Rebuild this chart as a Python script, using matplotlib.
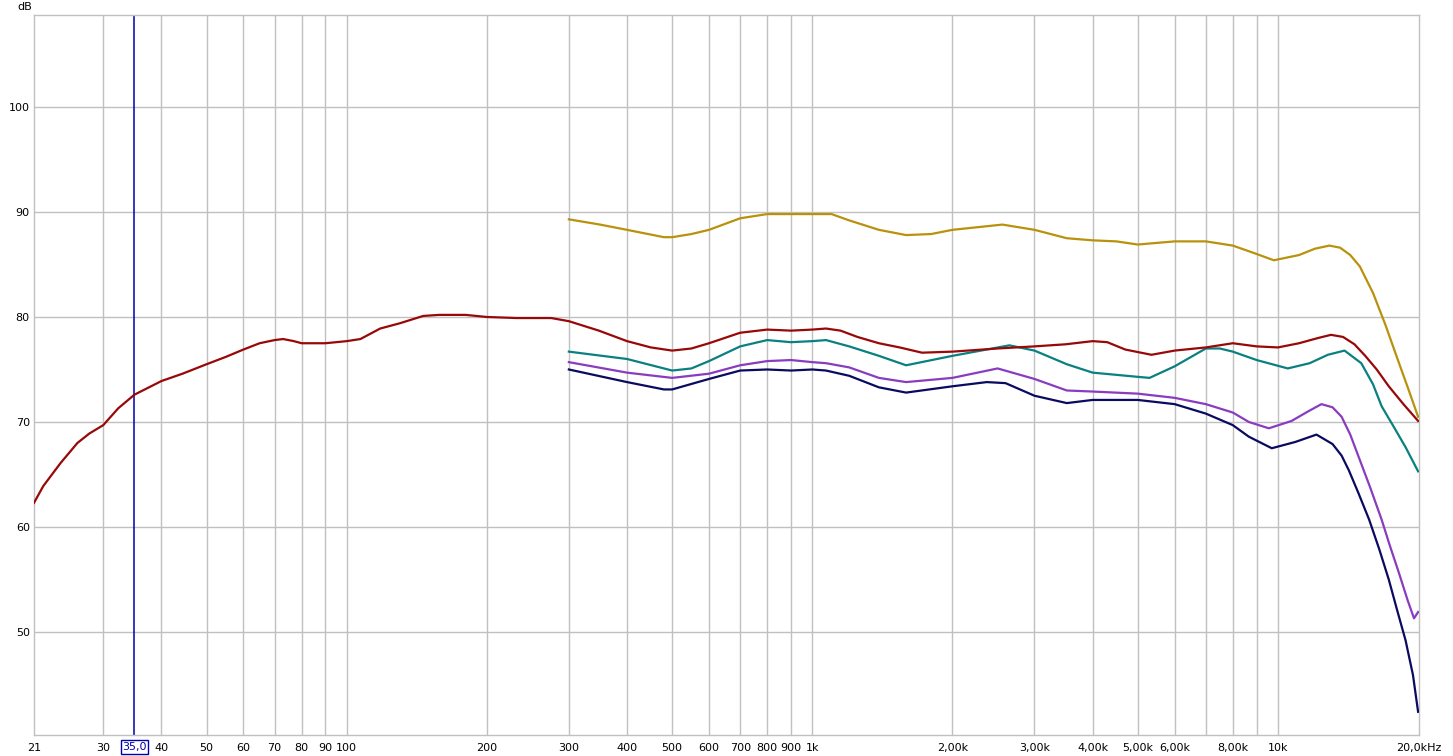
import matplotlib
matplotlib.use("Agg")
import matplotlib.pyplot as plt
import matplotlib.transforms as mtransforms

# red trace, full range
red_freq = [21.3, 22.3, 24.3, 26.4, 28, 30, 32.3, 35, 40, 44.4, 50, 55, 60, 65, 70, 73,
            77, 80, 90, 100, 107, 118, 130, 146, 158, 180, 200, 232, 275, 300, 348, 400,
            450, 500, 550, 600, 700, 800, 900, 1000, 1070, 1150, 1250, 1390, 1540, 1720,
            2000, 2500, 3000, 3500, 4000, 4300, 4700, 5350, 6000, 7000, 8000, 9000,
            10000, 11100, 12200, 13000, 13800, 14600, 15400, 16300, 17300, 18600, 20000]
red_db = [62.3, 63.9, 66.1, 68.0, 68.9, 69.7, 71.3, 72.6, 73.9, 74.6, 75.5, 76.2, 76.9,
          77.5, 77.8, 77.9, 77.7, 77.5, 77.5, 77.7, 77.9, 78.9, 79.4, 80.1, 80.2, 80.2,
          80.0, 79.9, 79.9, 79.6, 78.7, 77.7, 77.1, 76.8, 77.0, 77.5, 78.5, 78.8, 78.7,
          78.8, 78.9, 78.7, 78.1, 77.5, 77.1, 76.6, 76.7, 77.0, 77.2, 77.4, 77.7, 77.6,
          76.9, 76.4, 76.8, 77.1, 77.5, 77.2, 77.1, 77.5, 78.0, 78.3, 78.1, 77.4, 76.3,
          75.0, 73.4, 71.7, 70.1]

# gold trace
gold_freq = [300, 350, 400, 480, 500, 550, 600, 700, 800, 900, 1000, 1100, 1200, 1390,
             1590, 1800, 2000, 2560, 3000, 3520, 4000, 4500, 5000, 6000, 7000, 8000,
             9000, 9800, 11100, 12000, 12900, 13600, 14300, 15000, 16000, 17000, 18000,
             19000, 20000]
gold_db = [89.3, 88.8, 88.3, 87.6, 87.6, 87.9, 88.3, 89.4, 89.8, 89.8, 89.8, 89.8, 89.2,
           88.3, 87.8, 87.9, 88.3, 88.8, 88.3, 87.5, 87.3, 87.2, 86.9, 87.2, 87.2, 86.8,
           86.0, 85.4, 85.9, 86.5, 86.8, 86.6, 85.9, 84.8, 82.3, 79.3, 76.2, 73.3, 70.5]

# teal trace
teal_freq = [300, 400, 500, 550, 600, 700, 800, 900, 1000, 1070, 1200, 1390, 1590, 2000,
             2650, 3000, 3520, 4000, 5000, 5300, 6000, 7000, 7500, 8000, 9000, 10500,
             11700, 12800, 13900, 15100, 16000, 16700, 17700, 18800, 20000]
teal_db = [76.7, 76.0, 74.9, 75.1, 75.8, 77.2, 77.8, 77.6, 77.7, 77.8, 77.2, 76.3, 75.4,
           76.3, 77.3, 76.8, 75.5, 74.7, 74.3, 74.2, 75.3, 77.0, 77.0, 76.7, 75.9, 75.1,
           75.6, 76.4, 76.8, 75.6, 73.6, 71.5, 69.6, 67.6, 65.3]

# purple trace
purple_freq = [300, 400, 500, 600, 700, 800, 900, 1000, 1070, 1200, 1390, 1590, 2000,
               2500, 3000, 3520, 4000, 5000, 6000, 7000, 8000, 8660, 9560, 10700, 11600,
               12400, 13100, 13700, 14300, 14900, 15800, 16700, 17400, 18200, 19000,
               19600, 20000]
purple_db = [75.7, 74.7, 74.2, 74.6, 75.4, 75.8, 75.9, 75.7, 75.6, 75.2, 74.2, 73.8, 74.2,
             75.1, 74.1, 73.0, 72.9, 72.7, 72.3, 71.7, 70.9, 70.0, 69.4, 70.1, 71.0, 71.7,
             71.4, 70.5, 68.8, 66.7, 63.7, 60.7, 58.2, 55.6, 53.0, 51.3, 51.9]

# navy trace
navy_freq = [300, 400, 480, 500, 600, 700, 800, 900, 1000, 1070, 1200, 1390, 1590, 2000,
             2370, 2600, 3000, 3520, 4000, 5000, 6000, 7000, 8000, 8660, 9700, 10900,
             12100, 13100, 13700, 14200, 14900, 15700, 16500, 17300, 18000, 18800, 19500,
             20000]
navy_db = [75.0, 73.8, 73.1, 73.1, 74.1, 74.9, 75.0, 74.9, 75.0, 74.9, 74.4, 73.3, 72.8,
           73.4, 73.8, 73.7, 72.5, 71.8, 72.1, 72.1, 71.7, 70.8, 69.7, 68.6, 67.5, 68.1,
           68.8, 67.9, 66.8, 65.4, 63.2, 60.7, 57.9, 55.0, 52.2, 49.2, 45.9, 42.4]

grid_freqs = [30, 40, 50, 60, 70, 80, 90, 100, 200, 300, 400, 500, 600, 700, 800, 900,
              1000, 2000, 3000, 4000, 5000, 6000, 7000, 8000, 9000, 10000]
x_ticks = [21.3, 30, 40, 50, 60, 70, 80, 90, 100, 200, 300, 400, 500, 600, 700, 800, 900,
           1000, 2000, 3000, 4000, 5000, 6000, 8000, 10000, 20090]
x_labels = ["21", "30", "40", "50", "60", "70", "80", "90", "100", "200", "300", "400",
            "500", "600", "700", "800", "900", "1k", "2,00k", "3,00k", "4,00k", "5,00k",
            "6,00k", "8,00k", "10k", "20,0kHz"]
y_ticks = [50, 60, 70, 80, 90, 100]
cursor_freq = 35.0

plt.rcParams['font.family'] = ['DejaVu Sans']
fig = plt.figure(figsize=(14.53, 7.56), dpi=100)
ax = fig.add_axes([34 / 1453, 1 - 735 / 756, (1419 - 34) / 1453, (735 - 15) / 756])

ax.set_xscale('log')
ax.set_xlim(21.3, 20090)
ax.set_ylim(40.19, 108.76)

gc = '#c0c0c0'
for f in grid_freqs:
    ax.axvline(f, color=gc, lw=1, zorder=1)
for y in y_ticks:
    ax.axhline(y, color=gc, lw=1, zorder=1)
for s in ax.spines.values():
    s.set_color(gc)
    s.set_linewidth(1)

ax.axvline(cursor_freq, color='#0000b0', lw=1.1, zorder=2)

lw = 1.6
ax.plot(gold_freq, gold_db, color='#b8920c', lw=lw, zorder=3)
ax.plot(teal_freq, teal_db, color='#0a8080', lw=lw, zorder=3)
ax.plot(purple_freq, purple_db, color='#8a3cc0', lw=lw, zorder=3)
ax.plot(navy_freq, navy_db, color='#0a0a60', lw=lw, zorder=3)
ax.plot(red_freq, red_db, color='#980808', lw=lw, zorder=4)

ax.minorticks_off()
ax.set_xticks(x_ticks)
ax.set_xticklabels(x_labels)
ax.set_yticks(y_ticks)
ax.set_yticklabels([str(v) for v in y_ticks])
ax.tick_params(axis='both', length=0, labelsize=8, colors='black')
ax.tick_params(axis='x', pad=6)
ax.tick_params(axis='y', pad=3)

# cursor readout below the axis
trans = mtransforms.blended_transform_factory(ax.transData, ax.transAxes)
ax.text(cursor_freq, -0.0165, "35,0", transform=trans, ha='center', va='center',
        fontsize=8, color='#0000b0', zorder=5,
        bbox=dict(boxstyle='square,pad=0.15', facecolor='white', edgecolor='#0000b0', lw=1))

fig.text(25 / 1453, 1 - 7 / 756, "dB", ha='center', va='center', fontsize=8)

fig.savefig("out.png", dpi=100)
